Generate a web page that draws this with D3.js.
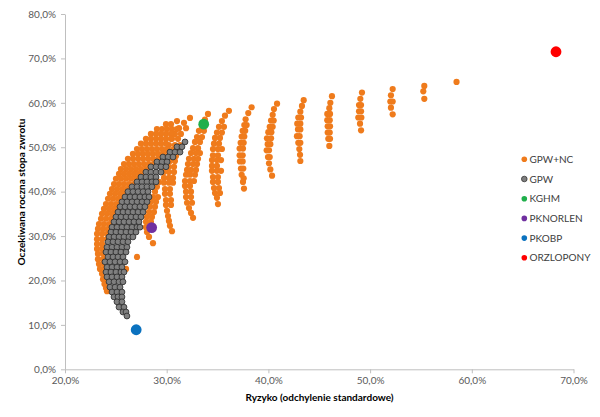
<!DOCTYPE html>
<html><head><meta charset="utf-8">
<script src="https://cdn.jsdelivr.net/npm/d3@7/dist/d3.min.js"></script>
<style>body{margin:0;background:#fff}svg{display:block}text{font-family:Lato,"Open Sans",sans-serif}</style>
</head><body><svg id="c" width="600" height="417"></svg>
<script>
// ---- DATA (risk %, expected return %) ----
const xTicks = [20, 30, 40, 50, 60, 70];
const yTicks = [0, 10, 20, 30, 40, 50, 60, 70, 80];
const seriesNames = ["GPW+NC", "GPW", "KGHM", "PKNORLEN", "PKOBP", "ORZLOPONY"];
const seriesColors = ["#EF7B1C", "#7F7F7F", "#1FAF4B", "#7030A0", "#0B72BF", "#FF0000"];

// GPW+NC portfolios, grouped as [return, [risk, risk, ...]]
const gpwNcRows = [
  [64.7,[58.5]],
  [63.8,[55.33]],[62.6,[55.23]],[60.9,[55.33]],
  [63.1,[52.22]],[61.7,[52.05]],[60.3,[51.99,52.22]],[58.9,[52.05]],[57.4,[52.22]],
  [62.3,[49.2]],[60.9,[49.04]],[59.5,[48.91,49.11]],[58.1,[48.91,49.11]],[56.7,[48.84,49.14]],[55.3,[49.01]],[53.8,[49.11]],
  [61.5,[46.25]],[60.0,[46.09]],[58.8,[45.99]],[57.5,[45.79,46.06]],[56.1,[45.79,46.03]],[54.7,[45.83,46.06]],[53.3,[45.83,46.03]],[51.9,[45.89,46.06]],[50.3,[45.99]],
  [60.6,[43.47]],[59.3,[43.30]],[58.0,[43.14]],[56.7,[42.94,43.21]],[55.3,[42.84,43.14]],[54.0,[42.91,43.14]],[52.5,[42.81,43.07]],[51.0,[42.94,43.14]],[49.6,[43.04]],[48.3,[43.11]],[46.9,[43.14]],
  [59.8,[40.85]],[58.6,[40.55]],[57.3,[40.42]],[56.0,[40.26,40.52]],[54.6,[40.13,40.42]],[53.4,[39.99,40.29]],[52.0,[39.86,40.26]],[50.7,[39.93,40.19]],[49.3,[39.83,40.06]],[47.8,[39.96,40.13]],[46.4,[40.06]],[45.0,[40.19]],[43.6,[40.36]],
  [59.0,[38.35]],[57.7,[38.02]],[56.3,[37.76]],[55.0,[37.63,37.86]],[53.7,[37.47,37.72]],[52.4,[37.37,37.63]],[51.0,[37.27,37.57]],[49.7,[37.17,37.50]],[48.2,[37.17,37.47]],[46.8,[37.20,37.47]],[45.2,[37.30,37.53]],[43.8,[37.37]],[43.0,[37.57]],[42.2,[37.50]],[40.7,[37.60]],
  [58.2,[36.12]],[57.1,[35.73]],[55.9,[35.43]],[54.6,[35.14,35.63]],[53.3,[34.94,35.43]],[52.1,[34.75,35.24]],[50.8,[34.65,35.14]],[49.6,[34.55,35.04,35.43]],[48.2,[34.55,35.04]],[47.1,[34.45,34.94,35.34]],[45.8,[34.45,34.94]],[44.7,[34.45,34.94,35.34]],[43.3,[34.55,35.04]],[42.2,[34.55,35.04]],[40.8,[34.65,35.14]],[39.7,[34.75,35.24]],[38.6,[34.94]],[37.2,[35.04]],
  [57.5,[34.06]],[56.2,[33.76]],[54.8,[33.47]],[53.7,[33.17,33.66]],[52.3,[32.98,33.47]],[51.2,[32.78,33.27]],[49.8,[32.59,33.08]],[48.7,[32.39,32.88,33.27]],[47.4,[32.19,32.68,33.08]],[46.2,[32.09,32.59,32.98]],[44.9,[32.00,32.39,32.88]],[43.8,[31.90,32.29,32.78]],[42.4,[31.80,32.29,32.68]],[41.3,[31.80,32.29]],[40.0,[31.90,32.39]],[38.8,[31.90,32.39]],[37.5,[32.00,32.49]],[36.3,[32.19]],[35.2,[32.39]],[34.1,[32.59]],
  [56.6,[32.29]],[55.5,[31.70]],[54.3,[31.21,31.90]],[53.0,[30.81,31.40]],[51.9,[30.52,31.11]],[50.5,[30.22,30.81,31.31]],[49.4,[30.03,30.62,31.11]],[48.0,[29.93,30.42,30.91]],[46.9,[29.83,30.32,30.81]],[45.6,[29.73,30.22,30.72]],[44.4,[29.73,30.22,30.72]],[43.1,[29.73,30.22,30.62]],[42.0,[29.73,30.22,30.62]],[40.6,[29.83,30.32]],[39.5,[29.83,30.32]],[38.1,[29.93,30.42]],[37.0,[29.93,30.42]],[35.7,[30.03]],[34.5,[30.13]],[33.4,[30.22]],[32.3,[30.32]],[31.1,[30.52]],
  [55.9,[31.01]],[42.2,[29.24]],[41.1,[29.04]],[40.0,[28.85]],[38.8,[28.65,29.14]],[37.7,[28.45,28.95]],[36.6,[28.36,28.85]],[35.4,[28.26,28.75]],[34.3,[28.06,28.55]],[33.2,[27.96,28.45]],[32.0,[27.96,28.36]],[30.9,[28.06]],[29.8,[28.26]],[28.4,[28.65]],
  [25.3,[27.08]],[22.6,[26.00]],[17.6,[24.13]],
  [55.2,[29.93,30.42]],
  [54.1,[29.04,29.54,30.03,30.52,31.01]],
  [53.0,[28.45,28.95,29.44,29.93,30.42]],
  [51.9,[27.96,28.45,28.95,29.44,29.93,30.42]],
  [50.8,[27.47,27.96,28.45,28.95,29.44,29.93]],
  [49.6,[27.08,27.57,28.06,28.55,29.04,29.54,30.03]],
  [48.5,[26.68,27.18,27.67,28.16,28.65,29.14,29.63]],
  [47.4,[26.19,26.68,27.18,27.67,28.16,28.65,29.14]],
  [46.2,[25.80,26.29,26.78,27.27,27.77,28.26,28.75]],
  [45.1,[25.50,26.00,26.49,26.98,27.47,27.96]],
  [44.0,[25.31,25.80,26.29,26.78,27.27,27.77]],
  [42.9,[25.01,25.50,26.00,26.49,26.98]],
  [41.7,[24.82,25.31,25.80,26.29,26.78]],
  [40.6,[24.62,25.11,25.60,26.09]],
  [39.5,[24.42,24.92,25.41,25.90]],
  [38.4,[24.23,24.72,25.21,25.70]],
  [37.2,[24.03,24.52,25.01,25.50]],
  [36.1,[23.83,24.33,24.82,25.31]],
  [35.0,[23.64,24.13,24.62,25.11]],
  [33.9,[23.54,24.03,24.52]],
  [32.7,[23.34,23.83,24.33,24.82]],
  [31.6,[23.24,23.74,24.23]],
  [30.5,[23.15,23.64,24.13]],
  [29.3,[23.15,23.64,24.13]],
  [28.2,[23.15,23.64]],
  [27.1,[23.15,23.64]],
  [26.0,[23.24,23.74]],
  [24.8,[23.24,23.74]],
  [23.7,[23.34,23.83]],
  [22.6,[23.44,23.93]],
  [21.5,[23.64,24.03]],
  [20.3,[23.74,24.13]],
  [19.2,[23.88]],
  [18.3,[24.03]]
];

// GPW portfolios, grouped as [return, [risk, ...]]
const gpwRows = [
  [51.2,[31.80]],
  [50.1,[31.01,31.50]],
  [48.9,[30.32,30.81,31.31]],
  [47.8,[29.63,30.13,30.62]],
  [46.7,[29.04,29.54,30.03]],
  [45.6,[28.45,28.95,29.44,29.93]],
  [44.4,[27.96,28.45,28.95,29.44]],
  [43.3,[27.47,27.96,28.45,28.95]],
  [42.2,[27.08,27.57,28.06,28.55,28.95]],
  [41.1,[26.59,27.08,27.57,28.06,28.55]],
  [40.0,[26.19,26.68,27.18,27.67,28.16]],
  [38.8,[25.90,26.39,26.88,27.37,27.86,28.26]],
  [37.7,[25.60,26.09,26.59,27.08,27.57,28.06]],
  [36.6,[25.41,25.90,26.39,26.88,27.37,27.86]],
  [35.4,[25.21,25.70,26.19,26.68,27.18,27.67]],
  [34.3,[25.01,25.50,26.00,26.49,26.98,27.47]],
  [33.2,[24.82,25.31,25.80,26.29,26.78,27.27]],
  [32.0,[24.62,25.11,25.60,26.09,26.59,27.08,27.37]],
  [30.9,[24.52,25.01,25.50,26.00,26.49,26.98]],
  [29.8,[24.33,24.82,25.31,25.80,26.29,26.68]],
  [28.7,[24.23,24.72,25.21,25.70,26.19]],
  [27.5,[24.13,24.62,25.11,25.60,26.09]],
  [26.4,[24.03,24.52,25.01,25.50,26.00]],
  [25.3,[24.23,24.72,25.21,25.70]],
  [24.2,[23.93,24.42,24.92,25.41,25.90]],
  [23.0,[24.13,24.62,25.11,25.60]],
  [21.9,[24.03,24.52,25.01,25.50,25.80]],
  [20.8,[24.13,24.62,25.11,25.60]],
  [19.7,[24.33,24.82,25.31,25.70]],
  [18.5,[24.42,24.92,25.41]],
  [17.4,[24.62,25.11,25.60]],
  [16.3,[24.82,25.21,25.60]],
  [15.2,[25.11,25.60]],
  [14.0,[25.31,25.80]],
  [12.9,[25.70,26.00]],
  [12.0,[26.09]]
];

// Single assets: [risk, return]
const kghm = [33.64, 55.2];
const pknorlen = [28.52, 31.9];
const pkobp = [27.0, 8.9];
const orzlopony = [68.28, 71.5];

// ---- DRAW ----
const svg = d3.select("#c");
const x = d3.scaleLinear().domain([20, 70]).range([65, 573.5]);
const y = d3.scaleLinear().domain([0, 80]).range([369.3, 14]);
const fmt = v => v.toFixed(1).replace(".", ",") + "%";
const flat = rows => rows.flatMap(([r, risks]) => risks.map(s => [s, r]));

const xAxis = svg.append("g").attr("transform", "translate(0,369.3)")
  .call(d3.axisBottom(x).tickValues(xTicks).tickFormat(fmt).tickSize(4).tickSizeOuter(0).tickPadding(4));
const yAxis = svg.append("g").attr("transform", "translate(65,0)")
  .call(d3.axisLeft(y).tickValues(yTicks).tickFormat(fmt).tickSize(4).tickSizeOuter(0).tickPadding(5));
[xAxis, yAxis].forEach(g => {
  g.select(".domain").attr("stroke", "#BFBFBF");
  g.selectAll(".tick line").attr("stroke", "#BFBFBF");
  g.selectAll(".tick text").attr("fill", "#595959").style("font-size", "10px").style("font-family", "Lato");
});

svg.append("g").selectAll("circle").data(flat(gpwNcRows)).join("circle")
  .attr("cx", d => x(d[0])).attr("cy", d => y(d[1])).attr("r", 3.1)
  .attr("fill", seriesColors[0]);
svg.append("g").selectAll("circle").data(flat(gpwRows)).join("circle")
  .attr("cx", d => x(d[0])).attr("cy", d => y(d[1])).attr("r", 2.9)
  .attr("fill", seriesColors[1]).attr("stroke", "#333").attr("stroke-width", 0.9);

[[kghm, 2], [pknorlen, 3], [pkobp, 4], [orzlopony, 5]].forEach(([p, i]) => {
  svg.append("circle").attr("cx", x(p[0])).attr("cy", y(p[1])).attr("r", 5.4)
    .attr("fill", seriesColors[i]);
});

// Legend
const lg = svg.append("g");
seriesNames.forEach((n, i) => {
  const ly = 159.3 + i * 19.7;
  const c = lg.append("circle").attr("cx", 524.3).attr("cy", ly).attr("r", 2.8).attr("fill", seriesColors[i]);
  if (i === 1) c.attr("stroke", "#333").attr("stroke-width", 0.8);
  lg.append("text").attr("x", 529.5).attr("y", ly).attr("dy", "0.35em")
    .attr("fill", "#404040").style("font-size", "10px").text(n);
});

// Axis titles
svg.append("text").attr("x", 319.5).attr("y", 401).attr("text-anchor", "middle")
  .style("font-size", "10px").style("font-weight", "bold").attr("fill", "#000")
  .text("Ryzyko (odchylenie standardowe)");
svg.append("text").attr("transform", "translate(25,192) rotate(-90)").attr("text-anchor", "middle")
  .style("font-size", "10px").style("font-weight", "bold").attr("fill", "#000")
  .text("Oczekiwana roczna stopa zwrotu");
</script></body></html>
